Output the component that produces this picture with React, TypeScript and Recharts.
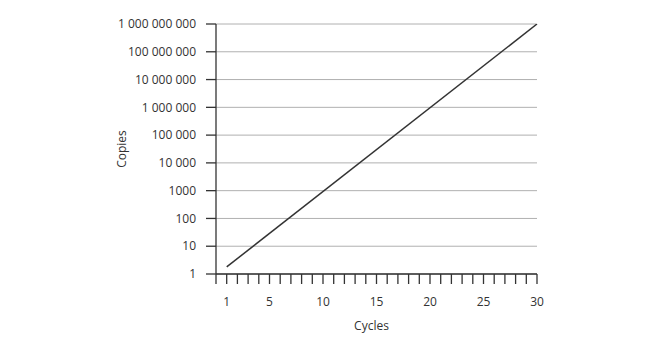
import { LineChart, Line, XAxis, YAxis, CartesianGrid } from 'recharts';

// Copies grow exponentially; the straight log line only needs its two ends.
const cycles = [1, 30];
const copies = [1.8, 1000000000];

const yTicks = [1, 10, 100, 1000, 10000, 100000, 1000000, 10000000, 100000000, 1000000000];
const yTickLabels = [
  '1',
  '10',
  '100',
  '1000',
  '10 000',
  '100 000',
  '1 000 000',
  '10 000 000',
  '100 000 000',
  '1 000 000 000',
];

const xTicks = [
  0, 1, 2, 3, 4, 5, 6, 7, 8, 9, 10, 11, 12, 13, 14, 15, 16, 17, 18, 19, 20, 21, 22, 23, 24, 25, 26,
  27, 28, 29, 30,
];
const xLabelled = [1, 5, 10, 15, 20, 25, 30];

const FONT = '"Open Sans", "DejaVu Sans", sans-serif';
const INK = '#333333';

const chartData = cycles.map((c, i) => ({ cycle: c, copies: copies[i] }));

export default function App() {
  return (
    <div style={{ position: 'absolute', left: 0, top: 0, background: '#fff' }}>
      <LineChart
        width={672}
        height={355}
        data={chartData}
        margin={{ top: 24, right: 135, left: 0, bottom: 51 }}
      >
        <CartesianGrid vertical={false} stroke="#b0b0b0" strokeWidth={1} />
        <XAxis
          dataKey="cycle"
          type="number"
          domain={[0, 30]}
          ticks={xTicks}
          interval={0}
          height={30}
          tickSize={10}
          tickMargin={13}
          tickFormatter={(v: number) => (xLabelled.includes(v) ? String(v) : '')}
          axisLine={{ stroke: INK, strokeWidth: 1.3 }}
          tickLine={{ stroke: INK, strokeWidth: 1.3 }}
          tick={{ fill: INK, fontSize: 12, fontFamily: FONT }}
          label={{
            value: 'Cycles',
            position: 'bottom',
            offset: 17,
            dx: -5,
            style: { fill: INK, fontSize: 12, fontFamily: FONT },
          }}
        />
        <YAxis
          scale="log"
          domain={[1, 1000000000]}
          ticks={yTicks}
          interval={0}
          allowDataOverflow
          width={216}
          tickSize={10}
          tickMargin={10}
          tickFormatter={(v: number) => yTickLabels[yTicks.indexOf(v)] ?? ''}
          axisLine={{ stroke: INK, strokeWidth: 1.3 }}
          tickLine={{ stroke: INK, strokeWidth: 1.3 }}
          tick={{ fill: INK, fontSize: 12, fontFamily: FONT }}
          label={{
            value: 'Copies',
            angle: -90,
            position: 'insideLeft',
            offset: 122,
            style: { fill: INK, fontSize: 12, fontFamily: FONT, textAnchor: 'middle' },
          }}
        />
        <Line
          type="linear"
          dataKey="copies"
          stroke={INK}
          strokeWidth={1.5}
          dot={false}
          isAnimationActive={false}
        />
      </LineChart>
    </div>
  );
}
